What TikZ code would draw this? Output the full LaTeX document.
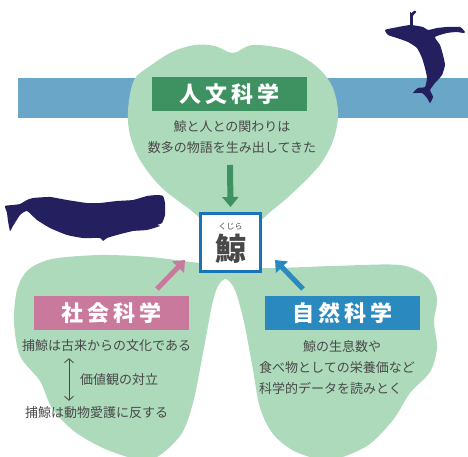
\documentclass[tikz,border=0pt]{standalone}
\usepackage{fontspec}
\setmainfont{Noto Sans CJK JP}
\newfontfamily\titlefont[LetterSpace=18]{Noto Sans CJK JP}
\usetikzlibrary{arrows.meta,calc}
\definecolor{leafbg}{RGB}{173,218,187}
\definecolor{sea}{RGB}{106,166,200}
\definecolor{whale}{RGB}{36,32,96}
\definecolor{ink}{RGB}{72,72,72}
\definecolor{humgreen}{RGB}{62,145,96}
\definecolor{socpink}{RGB}{201,122,156}
\definecolor{natblue}{RGB}{42,138,191}
\definecolor{frame}{RGB}{25,115,185}
\tikzset{
  >={Triangle[length=10pt,width=16pt]},
  field/.style={fill=#1,text=white,minimum width=155pt,minimum height=34pt,
    inner sep=0pt,font=\titlefont\fontsize{22}{22}\selectfont\bfseries},
  body/.style={text=ink,inner sep=0pt,align=#1,font=\fontsize{13}{21}\selectfont},
  body/.default=center,
  flow/.style={->,line width=6pt,draw=#1},
  dual/.style={{Straight Barb[length=4pt,width=9pt]}-{Straight Barb[length=4pt,width=9pt]},
    draw=ink,line width=0.8pt},
}
\begin{document}
\begin{tikzpicture}[x=1pt,y=-1pt]
  \useasboundingbox (0,0) rectangle (468,457);
  % sea
  \fill[sea] (18,78) rectangle (468,118);
  % heart lobe on top
  \fill[leafbg] plot[smooth cycle,tension=0.55] coordinates {
    (128,110) (134,80) (150,66) (172,52) (195,45) (215,46) (233,53) (253,45)
    (288,50) (316,66) (332,86) (338,112) (334,138) (322,162) (302,184)
    (275,208) (232,238) (188,208) (160,186) (140,160) (130,135)};
  % two lower lobes
  \fill[leafbg] plot[smooth cycle,tension=0.5] coordinates {
    (262,268) (333,266) (400,265) (427,277) (437,298) (434,322) (437,348)
    (430,372) (410,393) (393,420) (367,446) (330,460) (296,452) (273,434)
    (260,408) (253,370) (244,322) (235,290) (226,279) (218,286) (212,305)
    (203,353) (193,403) (180,436) (150,460) (110,451) (75,432) (52,408)
    (40,381) (20,356) (14,322) (17,290) (28,270) (52,259) (100,255)
    (150,257) (200,263)};
  % sperm whale
  \fill[whale] plot[smooth cycle,tension=0.3] coordinates {
    (5,206) (13,205) (20,204) (27,200) (33,198) (50,197) (67,200) (87,203)
    (100,203) (117,201) (133,200) (147,196) (157,195) (163,196) (165,203)
    (165,215) (162,223) (157,225) (160,226) (147,230) (133,231) (117,235)
    (107,238) (103,241) (100,238) (83,238) (67,235) (50,228) (37,220)
    (27,211) (20,215) (13,226) (10,231) (8,221) (7,213)};
  % humpback breaching
  \fill[whale] plot[smooth cycle,tension=0.3] coordinates {
    (385,30) (393,28) (410,25) (423,27) (428,30) (437,28) (447,27) (460,27)
    (465,32) (463,33) (457,32) (447,33) (435,37) (440,45) (443,55) (445,65)
    (442,75) (435,83) (432,87) (430,90) (433,97) (430,103) (427,98) (422,93)
    (413,93) (418,88) (425,87) (427,78) (425,68) (422,58) (417,48) (408,42)
    (397,38) (388,35)};
  \draw[whale,line width=2.6pt,line cap=round] (411.5,27) -- (411.5,15)
    to[out=-90,in=180] (415,12);
  % centre
  \node[draw=frame,line width=3pt,fill=white,minimum width=60pt,minimum height=58pt,
    inner sep=0pt] (kujira) at (230.5,242.5) {};
  \node[text=ink,font=\fontsize{8}{8}\selectfont,inner sep=0pt] (ruby) at (230.5,227) {くじら};
  \node[text=ink,font=\fontsize{31}{31}\selectfont\bfseries,inner sep=0pt] (kanji) at (230.5,249) {鯨};
  % humanities
  \node[field=humgreen] (hum) at (229.5,94) {人文科学};
  \node[body] (humtext) at (232,137.5) {鯨と人との関わりは\\数多の物語を生み出してきた};
  % social sciences
  \node[field=socpink] (soc) at (111.5,313) {社会科学};
  \node[body,anchor=west] (socA) at (22,346) {捕鯨は古来からの文化である};
  \node[body,anchor=west] (socC) at (80,380) {価値観の対立};
  \node[body,anchor=west] (socB) at (25,413) {捕鯨は動物愛護に反する};
  % natural sciences
  \node[field=natblue] (nat) at (342.5,313) {自然科学};
  \node[body=left,anchor=west] (nattext) at (259,367)
    {\hspace*{44pt}鯨の生息数や\\食べ物としての栄養価など\\科学的データを読みとく};
  % arrows
  \coordinate (humtail) at (230,165);
  \coordinate (soctail) at (157,289);
  \coordinate (soctip) at (185,260);
  \coordinate (nattail) at (303,289);
  \coordinate (nattip) at (275,260);
  \draw[flow=humgreen] (humtail) -- ([yshift=5pt]kujira.north);
  \draw[flow=socpink,line width=5pt] (soctail) -- (soctip);
  \draw[flow=natblue,line width=5pt] (nattail) -- (nattip);
  \draw[dual] ($(socA.south -| socC.west)+(-11,6)$) -- ($(socB.north -| socC.west)+(-11,-6)$);
\end{tikzpicture}
\end{document}
